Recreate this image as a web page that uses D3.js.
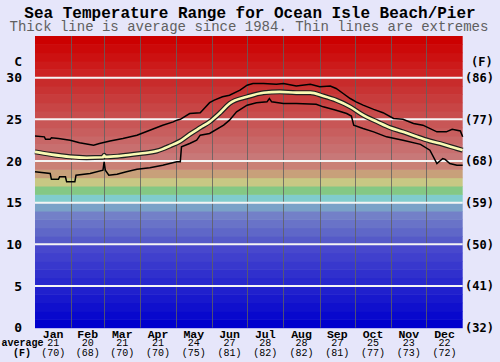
<!DOCTYPE html>
<html><head><meta charset="utf-8">
<script src="https://cdn.jsdelivr.net/npm/d3@7"></script>
<style>body{margin:0;background:#e6e6fa}svg{display:block}</style>
</head><body><svg id="c" width="500" height="362"></svg>
<script>
// ---- data ----
const months = ["Jan","Feb","Mar","Apr","May","Jun","Jul","Aug","Sep","Oct","Nov","Dec"];
const monthMidDays = [15.5,45,74.5,105,135.5,166,196.5,227.5,258,288.5,319,349.5];
const monthEndDays = [31,59,90,120,151,181,212,243,273,304,334];
const avgC = [21,20,21,21,24,27,28,28,27,25,23,22];
const avgF = [70,68,70,70,75,81,82,82,81,77,73,72];
const ticksC = [0,5,10,15,20,25,30];
const ticksF = [32,41,50,59,68,77,86];

// [dayOfYear, °C]
const avgSeries = [[0,21.1],[13,20.8],[30,20.5],[44,20.4],[58,20.45],[59,20.7],[60,20.5],[72,20.6],[90,20.9],[104,21.2],[115,21.8],[124,22.4],[132,23.2],[141,24.0],[149,24.7],[158,25.8],[166,26.9],[181,27.7],[195,28.2],[209,28.3],[223,28.2],[235,28.2],[246,27.8],[257,27.3],[269,26.5],[280,25.5],[292,24.7],[303,24.0],[314,23.5],[326,22.9],[337,22.4],[348,22.0],[360,21.5],[365,21.3]];

const maxSeries = [[0,23.0],[8,22.9],[9,22.6],[13,22.6],[14,22.8],[20,22.7],[30,22.5],[38,22.2],[50,21.9],[55,22.1],[64,22.4],[75,22.7],[87,23.1],[98,23.7],[109,24.3],[118,24.7],[121,24.9],[124,25.0],[132,25.7],[141,25.8],[145,26.4],[149,27.0],[153,27.3],[160,27.7],[166,27.9],[175,28.5],[181,29.1],[186,29.3],[195,29.3],[206,29.2],[212,29.3],[223,29.0],[235,29.2],[243,28.9],[252,29.0],[257,28.7],[263,28.1],[269,27.5],[274,27.1],[280,26.7],[289,26.2],[297,25.8],[306,25.1],[314,25.0],[323,24.5],[331,24.3],[343,23.5],[351,23.5],[356,23.8],[363,23.6],[365,22.9]];

const minSeries = [[0,18.7],[13,18.5],[14,17.8],[20,17.8],[21,18.1],[26,18.1],[27,17.5],[34,17.5],[35,18.3],[47,18.5],[58,18.9],[59,19.9],[60,18.9],[63,18.3],[70,18.4],[78,18.7],[87,19.0],[98,19.2],[109,19.5],[121,19.9],[124,19.9],[125,21.7],[132,22.1],[138,22.5],[141,23.1],[149,23.3],[161,24.3],[166,24.9],[172,25.9],[181,26.7],[189,27.0],[198,27.1],[200,27.5],[202,27.1],[212,26.9],[223,26.9],[240,26.8],[246,26.5],[257,26.1],[266,25.7],[270,25.4],[272,24.3],[280,23.9],[289,23.5],[300,22.9],[314,22.5],[329,22.0],[337,21.3],[343,19.7],[348,20.3],[350,20.2],[354,19.7],[360,19.5],[365,19.5]];

// ---- styling ----
function bandColor(i){
  const low = [[0,0,205],[8,8,205],[16,16,205],[24,24,205],[32,32,205],[40,40,205],[48,48,205],[56,56,205],[64,64,205],[72,72,205],
    [85,90,200],[95,103,200],[105,115,200],[115,128,200],[122,162,200],[128,204,204],[132,200,132],[200,200,132],[200,160,122],[202,128,118]];
  if(i<low.length){const c=low[i];return `rgb(${c[0]},${c[1]},${c[2]})`;}
  const g=Math.round(120*(34-i)/14);
  return `rgb(${i>=30?204:200},${g},${g})`;
}

const svg = d3.select("#c");
const W=500,H=362;
const x = d3.scaleLinear().domain([0,365]).range([35,462.7]);
const y = d3.scaleLinear().domain([0,35]).range([327.7,36]);

svg.append("rect").attr("width",W).attr("height",H).attr("fill","#e6e6fa");

// bands
svg.append("g").selectAll("rect").data(d3.range(0,35)).join("rect")
  .attr("x",x(0)).attr("width",x(365)-x(0))
  .attr("y",d=>y(d+1)).attr("height",d=>y(d)-y(d+1)+0.5)
  .attr("fill",d=>bandColor(d));

// month separators
svg.append("g").selectAll("line").data(monthEndDays).join("line")
  .attr("x1",d=>Math.round(x(d))+0.5).attr("x2",d=>Math.round(x(d))+0.5)
  .attr("y1",y(35)).attr("y2",y(0))
  .attr("stroke","#606060").attr("stroke-opacity",0.8).attr("stroke-width",1);

// white horizontal grid
svg.append("g").selectAll("line").data(ticksC.slice(1)).join("line")
  .attr("x1",x(0)).attr("x2",x(365))
  .attr("y1",d=>y(d)).attr("y2",d=>y(d))
  .attr("stroke","#f4f4f4").attr("stroke-width",2);

const line = d3.line().x(d=>x(d[0])).y(d=>y(d[1]));
svg.append("path").datum(maxSeries).attr("d",line).attr("fill","none").attr("stroke","#000").attr("stroke-width",1.5);
svg.append("path").datum(minSeries).attr("d",line).attr("fill","none").attr("stroke","#000").attr("stroke-width",1.5);
const avgCurve = d3.line().x(d=>x(d[0])).y(d=>y(d[1])).curve(d3.curveMonotoneX);
svg.append("path").datum(avgSeries).attr("d",avgCurve).attr("fill","none").attr("stroke","#202020").attr("stroke-width",5);
svg.append("path").datum(avgSeries).attr("d",avgCurve).attr("fill","none").attr("stroke","#fafab4").attr("stroke-width",2.6);

// title
svg.append("text").attr("x",250).attr("y",18).attr("text-anchor","middle")
  .style("font-family","'Liberation Mono',monospace").style("font-weight","bold").style("font-size","16px")
  .attr("fill","#000").text("Sea Temperature Range for Ocean Isle Beach/Pier");
svg.append("text").attr("x",249).attr("y",31).attr("text-anchor","middle")
  .style("font-family","'Liberation Mono',monospace").style("font-size","14px")
  .attr("fill","#606060").text("Thick line is average since 1984. Thin lines are extremes");

// left axis
const lf = "'DejaVu Sans Mono',monospace";
svg.append("g").selectAll("text").data(ticksC).join("text")
  .attr("x",22).attr("y",d=>y(d)).attr("dy","0.36em").attr("text-anchor","end")
  .style("font-family",lf).style("font-weight","bold").style("font-size","13px")
  .text(d=>d);
svg.append("text").attr("x",22).attr("y",61).attr("dy","0.36em").attr("text-anchor","end")
  .style("font-family",lf).style("font-weight","bold").style("font-size","13px").text("C");

// right axis
svg.append("g").selectAll("text").data(ticksF).join("text")
  .attr("x",465).attr("y",(d,i)=>y(ticksC[i])).attr("dy","0.36em").attr("text-anchor","start")
  .style("font-family",lf).style("font-weight","bold").style("font-size","12px")
  .text(d=>"("+d+")");
svg.append("text").attr("x",471).attr("y",62).attr("dy","0.36em")
  .style("font-family",lf).style("font-weight","bold").style("font-size","12px").text("(F)");

// month labels
const mf = "'Liberation Mono',monospace";
const mg = svg.append("g");
months.forEach((m,i)=>{
  const cx = x(monthMidDays[i]);
  mg.append("text").attr("x",cx).attr("y",337.5).attr("text-anchor","middle")
    .style("font-family",mf).style("font-weight","bold").style("font-size","11.5px").text(m);
  mg.append("text").attr("x",cx).attr("y",346).attr("text-anchor","middle")
    .style("font-family",mf).style("font-size","10px").text(avgC[i]);
  mg.append("text").attr("x",cx).attr("y",355.5).attr("text-anchor","middle")
    .style("font-family",mf).style("font-size","10px").text("("+avgF[i]+")");
});
svg.append("text").attr("x",1.5).attr("y",346)
  .style("font-family",mf).style("font-weight","bold").style("font-size","10px").text("average");
svg.append("text").attr("x",22).attr("y",355.5).attr("text-anchor","middle")
  .style("font-family",mf).style("font-weight","bold").style("font-size","10px").text("(F)");
</script></body></html>
